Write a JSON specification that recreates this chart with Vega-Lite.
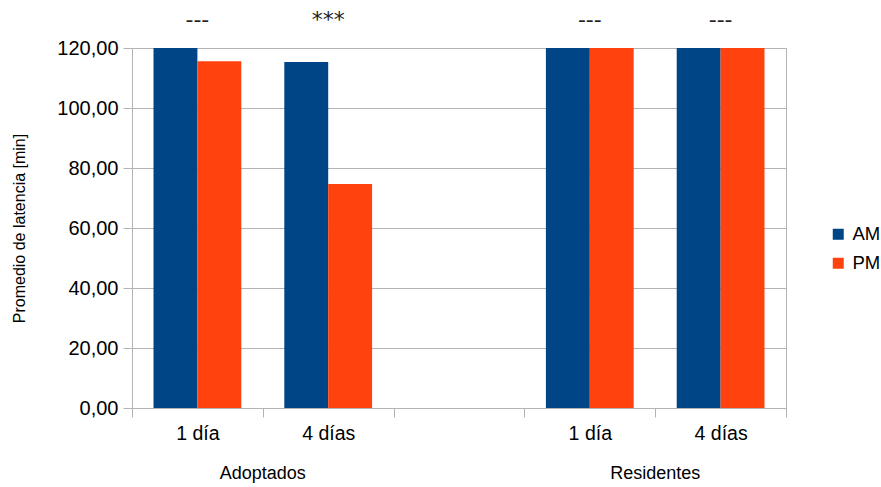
{
  "$schema": "https://vega.github.io/schema/vega-lite/v6.json",
  "width": 654,
  "height": 360,
  "autosize": {"type": "none"},
  "padding": {"left": 132, "top": 48, "right": 95, "bottom": 79},
  "background": "white",
  "config": {
    "view": {"stroke": "#b3b3b3", "strokeWidth": 1},
    "font": "Liberation Sans",
    "axis": {"labelColor": "#000000", "titleColor": "#000000", "labelFont": "Liberation Sans", "titleFont": "Liberation Sans"}
  },
  "datasets": {
    "barras": [
      {"categoria": "A1", "turno": "AM", "valor": 120},
      {"categoria": "A1", "turno": "PM", "valor": 115.6},
      {"categoria": "A4", "turno": "AM", "valor": 115.3},
      {"categoria": "A4", "turno": "PM", "valor": 74.7},
      {"categoria": "R1", "turno": "AM", "valor": 120},
      {"categoria": "R1", "turno": "PM", "valor": 120},
      {"categoria": "R4", "turno": "AM", "valor": 120},
      {"categoria": "R4", "turno": "PM", "valor": 120}
    ],
    "notas": [
      {"categoria": "A1", "nota": "---"},
      {"categoria": "A4", "nota": "***"},
      {"categoria": "R1", "nota": "---"},
      {"categoria": "R4", "nota": "---"}
    ],
    "grupos": [
      {"categoria": "A4", "grupo": "Adoptados"},
      {"categoria": "R4", "grupo": "Residentes"}
    ]
  },
  "layer": [
    {
      "data": {"name": "barras"},
      "mark": {"type": "bar"},
      "encoding": {
        "x": {
          "field": "categoria",
          "type": "nominal",
          "scale": {"domain": ["A1", "A4", "X", "R1", "R4"], "paddingInner": 0, "paddingOuter": 0},
          "axis": {
            "title": null,
            "labelAngle": 0,
            "labelFontSize": 19.5,
            "labelPadding": 7,
            "tickBand": "extent",
            "tickSize": 9,
            "tickColor": "#b3b3b3",
            "domainColor": "#b3b3b3",
            "grid": false,
            "labelExpr": "datum.value == 'A1' || datum.value == 'R1' ? '1 día' : ((datum.value == 'A4' || datum.value == 'R4') ? '4 días' : '')"
          }
        },
        "xOffset": {
          "field": "turno",
          "type": "nominal",
          "scale": {"domain": ["AM", "PM"], "paddingInner": 0, "paddingOuter": 0.49}
        },
        "y": {
          "field": "valor",
          "type": "quantitative",
          "scale": {"domain": [0, 120], "nice": false},
          "axis": {
            "title": "Promedio de latencia [min]",
            "titleFontSize": 16,
            "titleFontWeight": "normal",
            "titlePadding": 29,
            "values": [0, 20, 40, 60, 80, 100, 120],
            "labelExpr": "replace(format(datum.value, '.2f'), '.', ',')",
            "labelFontSize": 20,
            "labelPadding": 5,
            "tickSize": 9,
            "tickColor": "#b3b3b3",
            "domainColor": "#b3b3b3",
            "gridColor": "#b3b3b3"
          }
        },
        "color": {
          "field": "turno",
          "type": "nominal",
          "scale": {"domain": ["AM", "PM"], "range": ["#004586", "#ff420e"]},
          "legend": {
            "title": null,
            "orient": "none",
            "legendX": 697,
            "legendY": 177,
            "symbolType": "square",
            "symbolSize": 121,
            "symbolStrokeWidth": 0,
            "labelFontSize": 18.5,
            "labelColor": "#000000",
            "labelOffset": 5,
            "rowPadding": 10,
            "padding": 0
          }
        }
      }
    },
    {
      "data": {"name": "notas"},
      "mark": {"type": "text", "dy": -21, "baseline": "alphabetic", "fontSize": 22, "font": "DejaVu Sans", "color": "#222222"},
      "encoding": {
        "x": {"field": "categoria", "type": "nominal"},
        "y": {"datum": 120, "type": "quantitative"},
        "text": {"field": "nota"}
      }
    },
    {
      "data": {"name": "grupos"},
      "mark": {"type": "text", "dy": 66, "fontSize": 18, "color": "#000000"},
      "encoding": {
        "x": {"field": "categoria", "type": "nominal", "bandPosition": 0},
        "y": {"datum": 0, "type": "quantitative"},
        "text": {"field": "grupo"}
      }
    }
  ]
}
